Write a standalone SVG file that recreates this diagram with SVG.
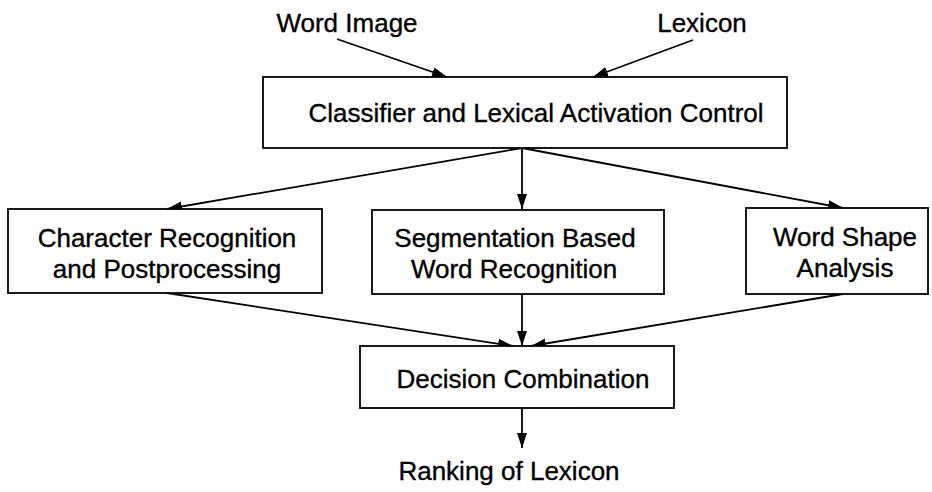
<svg xmlns="http://www.w3.org/2000/svg" width="932" height="492" viewBox="0 0 932 492">
<style>
.box{fill:#fff;stroke:#000;stroke-width:1.8}
.t{font-family:"Liberation Sans",Arial,Helvetica,sans-serif;font-size:26px;fill:#000;stroke:#000;stroke-width:0.35;text-anchor:middle}
.c{stroke:#000;stroke-width:1.8;fill:none;marker-end:url(#ah)}
</style>
<defs>
<marker id="ah" markerUnits="userSpaceOnUse" markerWidth="16" markerHeight="12" refX="15" refY="5.5" orient="auto">
<path d="M0,0.5 L15,5.5 L0,10.5 z" fill="#000"/>
</marker>
</defs>
<rect width="932" height="492" fill="#fff"/>
<g id="connectors">
<line class="c" x1="337" y1="39" x2="447" y2="77"/>
<line class="c" x1="693" y1="40" x2="593" y2="77"/>
<line class="c" x1="522" y1="148" x2="167" y2="209"/>
<line class="c" x1="522" y1="148" x2="522" y2="209"/>
<line class="c" x1="522" y1="148" x2="843" y2="208"/>
<line class="c" x1="167" y1="293" x2="513" y2="346"/>
<line class="c" x1="522" y1="294" x2="522" y2="346"/>
<line class="c" x1="843" y1="294" x2="531" y2="346"/>
<line class="c" x1="522" y1="408" x2="522" y2="448"/>
</g>
<g id="word-image"><text class="t" x="347" y="32">Word Image</text></g>
<g id="lexicon"><text class="t" x="702" y="32">Lexicon</text></g>
<g id="classifier">
<rect class="box" x="263" y="77" width="524" height="71"/>
<text class="t" x="536" y="122">Classifier and Lexical Activation Control</text>
</g>
<g id="char-recog">
<rect class="box" x="8" y="209" width="314" height="84"/>
<text class="t" x="167" y="247">Character Recognition</text>
<text class="t" x="167" y="278">and Postprocessing</text>
</g>
<g id="seg-recog">
<rect class="box" x="372" y="210" width="292" height="84"/>
<text class="t" x="515" y="247">Segmentation Based</text>
<text class="t" x="514" y="278">Word Recognition</text>
</g>
<g id="word-shape">
<rect class="box" x="746" y="208" width="182" height="86"/>
<text class="t" x="845" y="246">Word Shape</text>
<text class="t" x="845" y="277">Analysis</text>
</g>
<g id="decision">
<rect class="box" x="360" y="346" width="314" height="62"/>
<text class="t" x="523" y="388">Decision Combination</text>
</g>
<g id="ranking"><text class="t" x="509" y="480">Ranking of Lexicon</text></g>
</svg>
